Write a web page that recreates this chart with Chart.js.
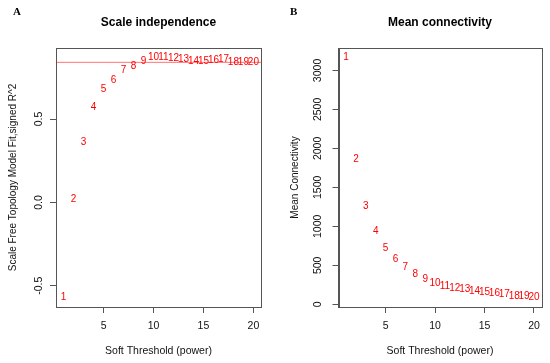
<!DOCTYPE html>
<html>
<head>
<meta charset="utf-8">
<script src="https://cdn.jsdelivr.net/npm/chart.js@4.4.0/dist/chart.umd.min.js"></script>
<style>
  html, body { margin: 0; padding: 0; background: #fff; }
  #wrap { display: flex; width: 550px; height: 363px; }
  .cell { position: relative; width: 275px; height: 363px; }
</style>
</head>
<body>
<div id="wrap">
  <div class="cell"><canvas id="chartA"></canvas></div>
  <div class="cell"><canvas id="chartB"></canvas></div>
</div>
<script>
// soft thresholding powers
var powers = [1, 2, 3, 4, 5, 6, 7, 8, 9, 10, 11, 12, 13, 14, 15, 16, 17, 18, 19, 20];
// scale free topology model fit, signed R^2
var sftFit = [-0.57, 0.02, 0.36, 0.57, 0.68, 0.73, 0.79, 0.815, 0.848, 0.87, 0.87, 0.863, 0.857, 0.848, 0.848, 0.852, 0.856, 0.839, 0.839, 0.842];
// mean connectivity
var meanK = [3167, 1859, 1264, 931, 718, 572, 469, 385, 324, 273, 235, 207, 190, 166, 152, 137, 124, 108, 100, 89];
var cutoff = 0.84;

var xTicks = [5, 10, 15, 20];
var yTicksA = [-0.5, 0, 0.5];
var yTicksB = [0, 500, 1000, 1500, 2000, 2500, 3000];

var axisColor = '#555';
var sans = "'Liberation Sans', Arial, sans-serif";

// draws box, labels, rotated y tick labels, titles
function rPlot(opts) {
  return {
    id: 'rplot',
    afterDraw: function(chart) {
      var ctx = chart.ctx, a = chart.chartArea;
      var xs = chart.scales.x, ys = chart.scales.y;
      ctx.save();
      // box
      ctx.strokeStyle = axisColor;
      ctx.lineWidth = 1;
      ctx.strokeRect(Math.round(a.left) + 0.5, Math.round(a.top) + 0.5,
        Math.round(a.right - a.left), Math.round(a.bottom - a.top));

      // cut-off line
      if (opts.hline !== undefined) {
        var hy = ys.getPixelForValue(opts.hline);
        ctx.strokeStyle = 'rgba(255,0,0,0.55)';
        ctx.beginPath();
        ctx.moveTo(a.left, hy);
        ctx.lineTo(a.right, hy);
        ctx.stroke();
      }

      // point labels
      var meta = chart.getDatasetMeta(0);
      ctx.fillStyle = '#ff0000';
      ctx.font = '10px ' + sans;
      ctx.textAlign = 'center';
      ctx.textBaseline = 'middle';
      meta.data.forEach(function(pt, i) {
        ctx.fillText(String(powers[i]), pt.x, pt.y);
      });

      // x tick labels
      ctx.fillStyle = '#111';
      ctx.font = '10.5px ' + sans;
      xTicks.forEach(function(v) {
        ctx.fillText(String(v), xs.getPixelForValue(v), 326.5);
      });
      // y tick labels, rotated like R
      opts.yTicks.forEach(function(v) {
        ctx.save();
        ctx.translate(opts.yLabX, ys.getPixelForValue(v));
        ctx.rotate(-Math.PI / 2);
        ctx.fillText(opts.yFmt(v), 0, 0);
        ctx.restore();
      });

      // axis titles
      ctx.font = '10.5px ' + sans;
      ctx.fillText('Soft Threshold (power)', (a.left + a.right) / 2, 351.5);
      ctx.font = '10px ' + sans;
      ctx.save();
      ctx.translate(opts.yTitleX, (a.top + a.bottom) / 2);
      ctx.rotate(-Math.PI / 2);
      ctx.fillText(opts.yTitle, 0, 0);
      ctx.restore();

      // main title
      ctx.fillStyle = '#000';
      ctx.font = 'bold 12px ' + sans;
      ctx.fillText(opts.title, (a.left + a.right) / 2, 23);

      // panel letter
      ctx.font = "bold 11px 'Liberation Serif', 'Times New Roman', serif";
      ctx.textAlign = 'left';
      ctx.fillText(opts.letter, opts.letterX, 12.5);
      ctx.restore();
    }
  };
}

function makeChart(id, values, yMin, yMax, yTicks, leftW, rightPad, plugin) {
  var ctx = document.getElementById(id).getContext('2d');
  return new Chart(ctx, {
    type: 'scatter',
    data: {
      datasets: [{
        data: powers.map(function(p, i) { return { x: p, y: values[i] }; }),
        pointRadius: 0,
        pointHoverRadius: 0
      }]
    },
    options: {
      responsive: false,
      animation: false,
      events: [],
      layout: { padding: { left: 0, right: rightPad, top: 48, bottom: 0 } },
      plugins: { legend: { display: false }, tooltip: { enabled: false } },
      scales: {
        x: {
          type: 'linear',
          min: 0.24, max: 20.76,
          afterBuildTicks: function(s) { s.ticks = xTicks.map(function(v) { return { value: v }; }); },
          afterFit: function(s) { s.height = 56; },
          ticks: { display: false },
          grid: { drawOnChartArea: false, drawTicks: true, tickLength: 6, color: axisColor },
          border: { display: true, color: axisColor }
        },
        y: {
          type: 'linear',
          min: yMin, max: yMax,
          afterBuildTicks: function(s) { s.ticks = yTicks.map(function(v) { return { value: v }; }); },
          afterFit: function(s) { s.width = leftW; },
          ticks: { display: false },
          grid: { drawOnChartArea: false, drawTicks: true, tickLength: 6, color: axisColor },
          border: { display: true, color: axisColor }
        }
      }
    },
    plugins: [plugin]
  });
}

document.getElementById('chartA').width = 275;
document.getElementById('chartA').height = 363;
document.getElementById('chartB').width = 275;
document.getElementById('chartB').height = 363;

makeChart('chartA', sftFit, -0.627, 0.926, yTicksA, 56, 14, rPlot({
  title: 'Scale independence',
  letter: 'A', letterX: 13,
  yTicks: yTicksA,
  yFmt: function(v) { return v.toFixed(1); },
  yLabX: 39,
  yTitle: 'Scale Free Topology Model Fit,signed R^2',
  yTitleX: 13.5,
  hline: cutoff
}));

makeChart('chartB', meanK, -35, 3288, yTicksB, 63.5, 8.5, rPlot({
  title: 'Mean connectivity',
  letter: 'B', letterX: 15,
  yTicks: yTicksB,
  yFmt: function(v) { return String(v); },
  yLabX: 43.5,
  yTitle: 'Mean Connectivity',
  yTitleX: 20
}));
</script>
</body>
</html>
